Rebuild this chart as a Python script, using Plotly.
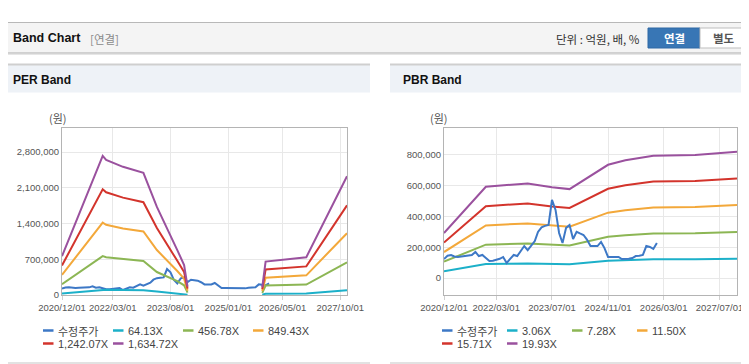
import plotly.graph_objects as go
import pandas as pd

# page body margin is 8px: the figure is placed at (8, 8) in the window
OFF = 8
W, H = 749 - OFF, 364 - OFF

# ---------------- data ----------------
price_dates = pd.date_range("2020-12-01", periods=62, freq="MS").strftime("%Y-%m-%d").tolist()
price = [124000, 145000, 150000, 140000, 137000, 140000, 143000, 143000, 150000, 170000,
         143000, 150000, 130000, 111000, 112000, 117000, 125000, 137000, 98000, 125000,
         150000, 143000, 175000, 208000, 182000, 215000, 240000, 300000, 330000, 339000,
         345000, 508000, 443000, 293000, 228000, 326000, 345000, 254000, 300000, 290000,
         280000, 250000, 208000, 208000, 208000, 235000, 195000, 137000, 137000, 137000,
         137000, 124000, 124000, 126000, 130000, 143000, 145000, 150000, 208000, 202000,
         189000, 228000]

per_dates = ["2020-12-01", "2021-12-01", "2022-01-01", "2022-06-01", "2022-12-01", "2023-04-01",
             "2023-10-01", "2023-12-01", "2024-01-01", "2025-01-01", "2025-11-01", "2025-12-01",
             "2026-12-01", "2027-12-01"]
per_64 = [30000, 107000, 104000, 98000, 94000, 68000, 35000, 23000, 6000, None, 6000, 25000, 29000, 91000]
per_456 = [212000, 761000, 740000, 701000, 668000, 450000, 270000, 190000, 46000, None, 42000, 185000, 205000, 640000]
per_849 = [395000, 1416000, 1375000, 1304000, 1243000, 880000, 470000, 320000, 85000, None, 78000, 340000, 385000, 1210000]
per_1242 = [578000, 2070000, 2011000, 1907000, 1817000, 1311000, 669000, 450000, 124000, None, 114000, 500000, 560000, 1755000]
per_1634 = [760000, 2725000, 2647000, 2510000, 2392000, 1725000, 880000, 588000, 163000, None, 150000, 655000, 740000, 2325000]
per_names = ["수정주가", "64.13X", "456.78X", "849.43X", "1,242.07X", "1,634.72X"]

pbr_dates = ["2020-12-01", "2021-12-01", "2022-12-01", "2023-07-01", "2023-12-01", "2024-11-01",
             "2025-04-01", "2025-12-01", "2026-12-01", "2027-12-01"]
pbr_306 = [45000, 91000, 94000, 91000, 89000, 113000, 117000, 122000, 123000, 126000]
pbr_728 = [107000, 217000, 225000, 216000, 211000, 269000, 279000, 290000, 292000, 300000]
pbr_1150 = [169000, 342000, 355000, 340000, 334000, 425000, 441000, 459000, 462000, 474000]
pbr_1571 = [231000, 467000, 485000, 465000, 456000, 580000, 603000, 627000, 631000, 647000]
pbr_1993 = [293000, 593000, 615000, 590000, 578000, 736000, 765000, 795000, 800000, 821000]
pbr_names = ["수정주가", "3.06X", "7.28X", "11.50X", "15.71X", "19.93X"]

per_tick_vals = ["2020-12-01", "2022-03-01", "2023-08-01", "2025-01-01", "2026-05-01", "2027-10-01"]
pbr_tick_vals = ["2020-12-01", "2022-03-01", "2023-07-01", "2024-11-01", "2026-03-01", "2027-07-01"]
per_tick_text = [d.replace("-", "/") for d in per_tick_vals]
pbr_tick_text = [d.replace("-", "/") for d in pbr_tick_vals]

colors = ["#3d78c6", "#1cb0c9", "#8cb654", "#f3a83a", "#d3342c", "#9a519e"]

def px(x):
    return (x - OFF) / W

def py(y):
    return 1 - (y - OFF) / H

FONT = "Liberation Sans, Noto Sans CJK KR, sans-serif"
KFONT = "Noto Sans CJK KR, Liberation Sans, sans-serif"

fig = go.Figure()

per_bands = [per_64, per_456, per_849, per_1242, per_1634]
fig.add_trace(go.Scatter(x=price_dates, y=price, mode="lines", name=per_names[0],
                         line=dict(color=colors[0], width=2), xaxis="x", yaxis="y", showlegend=False))
for i, band in enumerate(per_bands):
    fig.add_trace(go.Scatter(x=per_dates, y=band, mode="lines", name=per_names[i + 1],
                             line=dict(color=colors[i + 1], width=2), connectgaps=False,
                             xaxis="x", yaxis="y", showlegend=False))

pbr_bands = [pbr_306, pbr_728, pbr_1150, pbr_1571, pbr_1993]
for i, band in enumerate(pbr_bands):
    fig.add_trace(go.Scatter(x=pbr_dates, y=band, mode="lines", name=pbr_names[i + 1],
                             line=dict(color=colors[i + 1], width=2),
                             xaxis="x2", yaxis="y2", showlegend=False))
fig.add_trace(go.Scatter(x=price_dates, y=price, mode="lines", name=pbr_names[0],
                         line=dict(color=colors[0], width=2), xaxis="x2", yaxis="y2", showlegend=False))

axis_common = dict(showline=True, linecolor="#b4b4b4", linewidth=1, mirror=True,
                   showgrid=True, gridcolor="#e8e8e8", gridwidth=1, zeroline=False,
                   tickfont=dict(family=FONT, size=9.5, color="#555555"), tickangle=0,
                   automargin=False)

ydom = [py(295), py(128)]
fig.update_layout(
    width=W, height=H, autosize=False,
    margin=dict(l=0, r=0, t=0, b=0, pad=0, autoexpand=False),
    paper_bgcolor="white", plot_bgcolor="rgba(0,0,0,0)",
    showlegend=False,
    xaxis=dict(domain=[px(62), px(347)], anchor="y", type="date",
               range=["2020-12-01", "2027-12-01"], tickvals=per_tick_vals, ticktext=per_tick_text,
               ticks="outside", ticklen=4, tickcolor="#d0d0d0", **axis_common),
    yaxis=dict(domain=ydom, anchor="x", range=[0, 3270000], tick0=0, dtick=700000,
               tickformat=",d", ticks="", **axis_common),
    xaxis2=dict(domain=[px(444), px(737)], anchor="y2", type="date",
                range=["2020-12-01", "2027-12-01"], tickvals=pbr_tick_vals, ticktext=pbr_tick_text,
                ticks="outside", ticklen=4, tickcolor="#d0d0d0", **axis_common),
    yaxis2=dict(domain=ydom, anchor="x2", range=[-110000, 975000], tick0=0, dtick=200000,
                tickformat=",d", ticks="", **axis_common),
)

shapes = []
annotations = []

def rect(x0, y0, x1, y1, fill, line=None, lw=0, layer="below"):
    shapes.append(dict(type="rect", xref="paper", yref="paper", x0=px(x0), x1=px(x1),
                       y0=py(y1), y1=py(y0), fillcolor=fill,
                       line=dict(color=line or fill, width=lw), layer=layer))

def hline(x0, x1, y, color, width=1, layer="below"):
    shapes.append(dict(type="line", xref="paper", yref="paper", x0=px(x0), x1=px(x1),
                       y0=py(y), y1=py(y), line=dict(color=color, width=width), layer=layer))

def text(x, y, s, size=12, color="#222", bold=False, family=FONT, xanchor="left"):
    if bold:
        s = "<b>" + s + "</b>"
    annotations.append(dict(xref="paper", yref="paper", x=px(x), y=py(y), text=s, showarrow=False,
                            xanchor=xanchor, yanchor="middle",
                            font=dict(family=family, size=size, color=color)))

# header bar
rect(OFF, 22, 749, 53, "#f4f4f4")
hline(OFF, 749, 22.5, "#b8b8b8", 1)
hline(OFF, 749, 53, "#c4c4c4", 1.5)
hline(OFF, 749, 54.5, "#e6e6e6", 1)
text(11, 38, "Band Chart", 12.5, "#111", bold=True)
text(88, 38.5, "[연결]", 11.5, "#8a8a8a", family=KFONT)
text(642, 38.5, "단위 : 억원, 배, %", 11.5, "#333", family=KFONT, xanchor="right")
rect(648, 28, 700, 48, "#3876b5", "#2f69a5", 1)
rect(700, 28, 748, 48, "#ffffff", "#bdbdbd", 1)
text(674, 38, "연결", 11.5, "#ffffff", bold=True, family=KFONT, xanchor="center")
text(724, 38, "별도", 11.5, "#555555", bold=True, family=KFONT, xanchor="center")

# panels
for (x0, x1, tx, title) in [(OFF, 370, 11, "PER Band"), (390, 749, 401, "PBR Band")]:
    rect(x0, 65, x1, 92.5, "#eef2f7")
    hline(x0, x1, 64.5, "#cfcfcf", 2)
    hline(x0, x1, 363, "#d8d8d8", 1.5)
    text(tx, 79.5, title, 12, "#111", bold=True)

text(47, 118, "(원)", 11, "#555", family=KFONT)
text(428, 118, "(원)", 11, "#555", family=KFONT)

# legends
def legend(names, x0, colw, rows_y):
    for i, nm in enumerate(names):
        c, r = i % 4, i // 4
        xx = x0 + c * colw
        yy = rows_y[r]
        shapes.append(dict(type="line", xref="paper", yref="paper", x0=px(xx), x1=px(xx + 10.5),
                           y0=py(yy), y1=py(yy), line=dict(color=colors[i], width=2.5), layer="above"))
        text(xx + 12.5, yy, nm, 11, "#444", family=KFONT if i == 0 else FONT)

legend(per_names, 43, 70, [330.5, 343.5])
legend(pbr_names, 442, 65, [330.5, 343.5])

fig.update_layout(shapes=shapes, annotations=annotations)
fig.write_html("out.html")
